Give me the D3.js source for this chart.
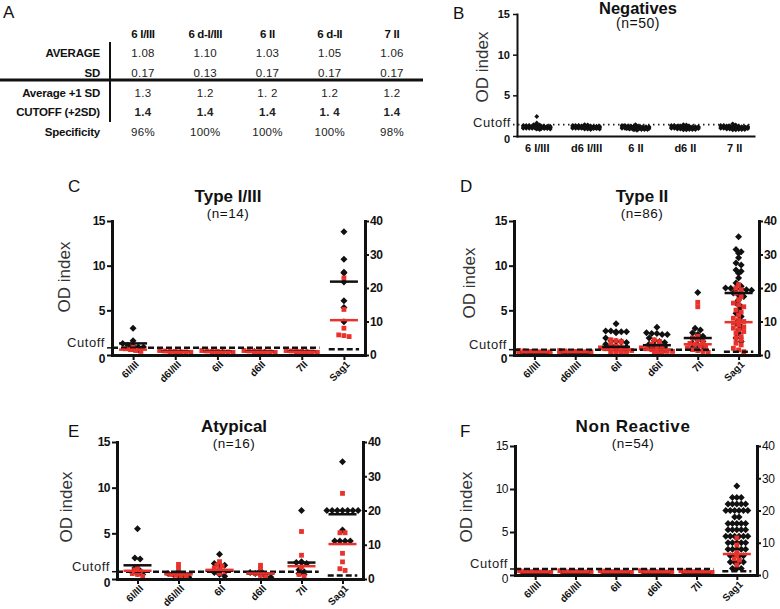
<!DOCTYPE html>
<html><head><meta charset="utf-8">
<script src="https://cdn.jsdelivr.net/npm/d3@7"></script>
<style>body{margin:0;background:#fff} svg{display:block}</style>
</head><body><svg id="c" width="780" height="609"></svg>
<script>
// ---------- DATA ----------
const tableCols = ["6 I/III","6 d-I/III","6 II","6 d-II","7 II"];
const tableRows = ["AVERAGE","SD","Average +1 SD","CUTOFF (+2SD)","Specificity"];
const tableAverage = ["1.08","1.10","1.03","1.05","1.06"];
const tableSD = ["0.17","0.13","0.17","0.17","0.17"];
const tablePlus1SD = ["1.3","1.2","1. 2","1.2","1.2"];
const tableCutoff = ["1.4","1.4","1.4","1. 4","1.4"];
const tableSpecificity = ["96%","100%","100%","100%","98%"];

const negCategories = ["6 I/III","d6 I/III","6 II","d6 II","7 II"];
const negCutoff = 1.4;
const neg6I = [2.4,1.6,1.4,1.4,1.35,1.3,1.3,1.3,1.25,1.25,1.25,1.2,1.2,1.2,1.2,1.15,1.15,1.15,1.15,1.1,1.1,1.1,1.1,1.1,1.1,1.05,1.05,1.05,1.05,1.05,1.05,1.0,1.0,1.0,1.0,1.0,1.0,1.0,0.95,0.95,0.95,0.95,0.95,0.9,0.9,0.9,0.9,0.85,0.85,0.8];
const negd6I = [1.4,1.35,1.3,1.3,1.3,1.25,1.25,1.25,1.25,1.2,1.2,1.2,1.2,1.2,1.15,1.15,1.15,1.15,1.15,1.1,1.1,1.1,1.1,1.1,1.1,1.05,1.05,1.05,1.05,1.05,1.05,1.0,1.0,1.0,1.0,1.0,1.0,0.95,0.95,0.95,0.95,0.95,0.9,0.9,0.9,0.9,0.85,0.85,0.85,0.8];
const neg6II = [1.4,1.3,1.3,1.25,1.25,1.2,1.2,1.2,1.15,1.15,1.15,1.15,1.1,1.1,1.1,1.1,1.1,1.05,1.05,1.05,1.05,1.05,1.05,1.0,1.0,1.0,1.0,1.0,1.0,1.0,0.95,0.95,0.95,0.95,0.95,0.95,0.9,0.9,0.9,0.9,0.9,0.85,0.85,0.85,0.85,0.8,0.8,0.8,0.75,0.7];
const negd6II = [1.4,1.35,1.3,1.3,1.25,1.25,1.2,1.2,1.2,1.15,1.15,1.15,1.15,1.1,1.1,1.1,1.1,1.1,1.05,1.05,1.05,1.05,1.05,1.05,1.0,1.0,1.0,1.0,1.0,1.0,1.0,0.95,0.95,0.95,0.95,0.95,0.9,0.9,0.9,0.9,0.9,0.85,0.85,0.85,0.85,0.8,0.8,0.8,0.75,0.75];
const neg7II = [1.5,1.35,1.3,1.3,1.25,1.25,1.2,1.2,1.2,1.15,1.15,1.15,1.15,1.1,1.1,1.1,1.1,1.1,1.05,1.05,1.05,1.05,1.05,1.05,1.0,1.0,1.0,1.0,1.0,1.0,1.0,0.95,0.95,0.95,0.95,0.95,0.9,0.9,0.9,0.9,0.9,0.85,0.85,0.85,0.85,0.8,0.8,0.8,0.75,0.75];

const panelCategories = ["6I/III","d6I/III","6II","d6II","7II","Sag1"];
const leftTicks = [0,5,10,15];
const rightTicks = [0,10,20,30,40];
const panelCutoff = [0.8, 0.6, 0.8, 0.7];     // OD index cutoff line (left axis)
const sagCutoff = [1.7, 1.0, 1.0, 1.2];       // Sag1 cutoff line (right axis)

// Panel C: Type I/III (n=14)
const C_black = [
  [3.0,1.6,1.3,1.1,1.0,0.9,0.9,0.8,0.7,0.6],
  [0.4,0.3,0.3],[0.4,0.3,0.3],[0.4,0.3,0.3],[0.4,0.3,0.3],
  [36.8,28.6,24.7,24.5,21.8,16.2,14.2,9.9]
];
const C_red = [
  [0.9,0.7,0.6,0.5,0.4],
  [0.5,0.45,0.4,0.4,0.35,0.35,0.3,0.3,0.3,0.25,0.25,0.2],
  [0.5,0.45,0.4,0.4,0.35,0.35,0.3,0.3,0.3,0.25,0.25,0.2],
  [0.5,0.45,0.4,0.4,0.35,0.35,0.3,0.3,0.3,0.25,0.25,0.2],
  [0.5,0.45,0.4,0.4,0.35,0.35,0.3,0.3,0.3,0.25,0.25,0.2],
  [23.0,13.6,8.0,6.0,5.8,5.5]
];
const C_blackMean = [1.3,0.4,0.4,0.4,0.4,21.9];
const C_redMean = [0.6,0.35,0.35,0.35,0.35,10.4];

// Panel D: Type II (n=86)
const D_black = [
  [0.3,0.3,0.25],[0.3,0.3,0.25],
  [3.5,2.7,2.7,2.6,2.6,2.6,2.5,1.9,1.6,1.5,1.5,1.4,1.2,1.1,1.0,0.9,0.9,0.8,0.8,0.7,0.7,0.6],
  [3.1,2.5,2.4,2.4,2.3,2.3,1.9,1.6,1.5,1.4,1.2,1.1,1.0,0.9,0.8,0.8,0.7,0.6],
  [7.0,3.0,2.8,2.5,2.3,2.1,1.9,1.7,1.5,1.3,1.1,1.0,0.8,0.6,0.5],
  [35.3,31.5,30.8,30.4,29.0,27.5,26.9,25.4,25.0,24.4,23.0,21.5,20.5,20.0,19.9,19.8,19.6,19.5,19.3,18.5,17.9,17.5,16.4,15.5,14.4,13.5,12.5,11.5,10.4,9.5,8.4,7.5,6.6,5.1,4.0]
];
const D_red = [
  [0.5,0.45,0.4,0.4,0.35,0.35,0.35,0.3,0.3,0.3,0.3,0.25,0.25,0.25,0.2,0.2,0.15,0.1],
  [0.5,0.45,0.4,0.4,0.35,0.35,0.35,0.3,0.3,0.3,0.3,0.25,0.25,0.25,0.2,0.2,0.15,0.1],
  [1.7,1.6,1.5,1.3,1.0,0.9,0.8,0.7,0.7,0.6,0.6,0.5,0.5,0.4,0.4,0.3,0.3,0.2,0.2,0.1],
  [1.7,1.5,1.2,1.0,0.9,0.8,0.7,0.6,0.6,0.5,0.4,0.4,0.3,0.3,0.2,0.1],
  [5.9,5.4,2.1,1.9,1.7,1.5,1.3,1.2,1.0,0.9,0.8,0.6,0.5,0.4,0.3],
  [21.0,20.0,19.5,18.5,17.4,16.5,15.5,15.0,14.4,13.4,12.8,11.9,11.0,10.4,10.0,9.5,9.0,8.4,8.0,7.5,7.0,6.5,5.5,5.0,4.5,3.5,3.0,2.0,1.5,1.0]
];
const D_blackMean = [0.3,0.3,0.9,1.1,1.9,18.5];
const D_redMean = [0.35,0.35,0.6,0.6,1.2,9.8];

// Panel E: Atypical (n=16)
const E_black = [
  [5.5,2.3,2.2,1.2,0.9,0.7,0.6,0.5],
  [0.8,0.6,0.5,0.4,0.3,0.2],
  [2.7,1.7,1.6,1.5,1.0,0.7,0.5,0.3],
  [0.9,0.7,0.6,0.5,0.3,0.2],
  [7.5,1.9,1.8,1.8,1.7,1.0,0.8,0.6,0.5],
  [34.2,20.0,20.0,20.0,20.0,20.0,20.0,20.0,14.3,11.1,11.1,11.1,11.1]
];
const E_red = [
  [1.3,1.0,0.8,0.6,0.5,0.3],
  [1.6,1.2,0.5,0.4,0.3,0.2],
  [1.9,1.5,1.4,1.2,1.0,0.8,0.6],
  [1.5,1.2,0.6,0.4,0.3],
  [5.2,2.6,1.3,0.5,0.3],
  [25.0,13.5,13.5,7.5,5.0,3.0,2.5]
];
const E_blackMean = [1.5,0.6,0.9,0.6,1.8,18.9];
const E_redMean = [0.9,0.5,1.0,0.6,1.4,10.2];

// Panel F: Non Reactive (n=54)
const F_black = [
  [0.3,0.25,0.2],[0.3,0.25,0.2],[0.3,0.25,0.2],[0.3,0.25,0.2],[0.3,0.25,0.2],
  [27.6,24,24,24,22,22,22,22,22,20,20,20,20,20,20,18,18,16,16,16,16,16,14,14,14,14,14,12,12,12,12,12,12,10,10,10,10,10,8,8,8,8,8,6,6,6,6,4,4,4,4,2,2,2]
];
const F_red = [
  [0.5,0.45,0.4,0.4,0.35,0.35,0.3,0.3,0.3,0.3,0.25,0.25,0.2,0.2,0.15,0.1],
  [0.5,0.45,0.4,0.4,0.35,0.35,0.3,0.3,0.3,0.3,0.25,0.25,0.2,0.2,0.15,0.1],
  [0.5,0.45,0.4,0.4,0.35,0.35,0.3,0.3,0.3,0.3,0.25,0.25,0.2,0.2,0.15,0.1],
  [0.5,0.45,0.4,0.4,0.35,0.35,0.3,0.3,0.3,0.3,0.25,0.25,0.2,0.2,0.15,0.1],
  [0.5,0.45,0.4,0.4,0.35,0.35,0.3,0.3,0.3,0.3,0.25,0.25,0.2,0.2,0.15,0.1],
  [11.5,9.3,7.0,6.0,5.0,4.6,3.1]
];
const F_blackMean = [0.3,0.3,0.3,0.3,0.3,null];
const F_redMean = [0.35,0.35,0.35,0.35,0.35,6.5];

// ---------- DRAWING ----------
const FONT = "'Liberation Sans', Arial, Helvetica, sans-serif";
const BLACK = "#111", RED = "#e8322b";
const svg = d3.select("#c").attr("font-family", FONT);

function txt(g, x, y, s, size, weight, anchor, fill){
  return g.append("text").attr("x",x).attr("y",y).attr("font-size",size)
    .attr("font-weight",weight||"normal").attr("text-anchor",anchor||"start")
    .attr("fill",fill||"#111").text(s);
}

// ---- Panel A: table ----
const gA = svg.append("g");
txt(gA, 3, 18, "A", 17);
const colX = d3.scalePoint().domain(tableCols).range([143, 392]);
const rowY = d3.scalePoint().domain(tableRows).range([57, 136]);
tableCols.forEach(c => txt(gA, colX(c), 38, c, 11.5, "bold", "middle").attr("letter-spacing", -0.3));
tableRows.forEach(r => txt(gA, 100, rowY(r), r, 11.5, "bold", "end").attr("letter-spacing", -0.2));
const tableVals = [tableAverage, tableSD, tablePlus1SD, tableCutoff, tableSpecificity];
tableVals.forEach((vals, ri) => {
  vals.forEach((v, ci) => {
    txt(gA, colX(tableCols[ci]), rowY(tableRows[ri]), v, 11.5, ri === 3 ? "bold" : "normal", "middle", "#222")
      .attr("letter-spacing", 0.3);
  });
});
gA.append("line").attr("x1",110).attr("x2",110).attr("y1",42).attr("y2",122).attr("stroke","#111").attr("stroke-width",2);
gA.append("line").attr("x1",0).attr("x2",423).attr("y1",80).attr("y2",80).attr("stroke","#111").attr("stroke-width",3);

// ---- swarm layout ----
function swarm(vals, yS, cx, dx, rh, maxPer){
  const pts = vals.map(v => ({v, y: yS(v)})).sort((a,b) => b.v - a.v);
  const bins = d3.groups(pts, p => Math.round(p.y / rh));
  const out = [];
  bins.forEach(([k, arr]) => {
    const n = arr.length;
    arr.forEach((p, i) => {
      const layer = Math.floor(i / maxPer), j = i % maxPer;
      const inLayer = Math.min(maxPer, n - layer * maxPer);
      const off = (j - (inLayer - 1) / 2) * dx + (layer % 2 ? dx / 2 : 0);
      out.push({v: p.v, x: cx + off, y: p.y});
    });
  });
  return out;
}
const diamond = r => `M0,${-r}L${r},0L0,${r}L${-r},0Z`;

function styleAxis(a, size, weight){
  a.select(".domain").attr("stroke", BLACK).attr("stroke-linecap","square");
  a.selectAll(".tick line").attr("stroke", BLACK);
  a.selectAll(".tick text").attr("font-family", FONT).attr("font-size", size)
    .attr("font-weight", weight).attr("fill", BLACK);
}

// ---- Panel B: Negatives ----
(function(){
  const g = svg.append("g");
  const L = 517, R = 754, T = 14, Bm = 136;
  const x = d3.scalePoint().domain(negCategories).range([L, R]).padding(0.4);
  const y = d3.scaleLinear().domain([0, 15]).range([Bm, T]);
  txt(g, 453, 19, "B", 17);
  txt(g, 638, 13.5, "Negatives", 16.5, "bold", "middle");
  txt(g, 638, 28, "(n=50)", 14, "normal", "middle").attr("letter-spacing", 0.5);
  g.append("text").attr("transform", "translate(488,67) rotate(-90)").attr("text-anchor","middle")
    .attr("font-size", 17).attr("fill", "#333").text("OD index");
  const ay = g.append("g").attr("transform", `translate(${L},0)`)
    .call(d3.axisLeft(y).tickValues(leftTicks).tickSize(4).tickSizeOuter(0).tickPadding(3));
  styleAxis(ay, 11, "bold");
  ay.select(".domain").attr("stroke-width", 2);
  ay.selectAll(".tick line").attr("stroke-width", 1.5);
  ay.selectAll(".tick text").filter(d => d === 0).attr("dy", "0.6em");
  const ax = g.append("g").attr("transform", `translate(0,${Bm})`)
    .call(d3.axisBottom(x).tickSize(0).tickSizeOuter(0).tickPadding(8));
  styleAxis(ax, 11, "bold");
  ax.select(".domain").attr("stroke-width", 2);
  txt(g, 511, y(negCutoff) + 2.5, "Cutoff", 13, "normal", "end", "#222").attr("letter-spacing", 0.6);
  g.append("line").attr("x1", 513).attr("x2", 753).attr("y1", y(negCutoff)).attr("y2", y(negCutoff))
    .attr("stroke", "#222").attr("stroke-width", 1.6).attr("stroke-dasharray", "1.5,3.5");
  const groups = [neg6I, negd6I, neg6II, negd6II, neg7II];
  groups.forEach((vals, i) => {
    const pts = swarm(vals, y, x(negCategories[i]), 3, 1.5, 10);
    g.append("g").selectAll("path").data(pts).join("path")
      .attr("d", diamond(2.4)).attr("transform", d => `translate(${d.x},${d.y})`).attr("fill", BLACK);
  });
})();

// ---- Panels C–F ----
const panels = [
  {letter:"C", title:"Type I/III", n:"(n=14)", left:112, right:365, top:221, bottom:355,
   black:C_black, red:C_red, bm:C_blackMean, rm:C_redMean, cut:panelCutoff[0], sag:sagCutoff[0], bold:true,
   lx:68, ly:192, tx:228, ty:202, ox:70, oy:277, dx:5.2},
  {letter:"D", title:"Type II", n:"(n=86)", left:514, right:759, top:221, bottom:355,
   black:D_black, red:D_red, bm:D_blackMean, rm:D_redMean, cut:panelCutoff[1], sag:sagCutoff[1], bold:true,
   lx:460, ly:192, tx:642, ty:202, ox:475, oy:283, dx:5.2},
  {letter:"E", title:"Atypical", n:"(n=16)", left:117, right:363, top:442, bottom:579,
   black:E_black, red:E_red, bm:E_blackMean, rm:E_redMean, cut:panelCutoff[2], sag:sagCutoff[2], bold:true,
   lx:68, ly:437, tx:234, ty:432, ox:72, oy:507, dx:5.2},
  {letter:"F", title:"Non Reactive", n:"(n=54)", left:515, right:757, top:446, bottom:575,
   black:F_black, red:F_red, bm:F_blackMean, rm:F_redMean, cut:panelCutoff[3], sag:sagCutoff[3], bold:false,
   lx:460, ly:437, tx:633, ty:432, ox:472, oy:507, dx:4.4}
];

panels.forEach(p => {
  const g = svg.append("g");
  const x = d3.scalePoint().domain(panelCategories).range([p.left, p.right]).padding(0.5);
  const y = d3.scaleLinear().domain([0, 15]).range([p.bottom, p.top]);
  const yR = d3.scaleLinear().domain([0, 40]).range([p.bottom, p.top]);
  const step = x.step();
  const fw = p.bold ? "bold" : "normal";

  txt(g, p.lx, p.ly, p.letter, 17);
  txt(g, p.tx, p.ty, p.title, 17, "bold", "middle").attr("letter-spacing", p.letter === "F" ? 0.6 : 0);
  txt(g, p.tx, p.ty + 16, p.n, 13.5, "normal", "middle").attr("letter-spacing", 0.5);
  g.append("text").attr("transform", `translate(${p.ox},${p.oy}) rotate(-90)`).attr("text-anchor","middle")
    .attr("font-size", 17).attr("fill", "#333").text("OD index");

  // points
  p.black.forEach((vals, i) => {
    const s = i === 5 ? yR : y;
    const pts = swarm(vals, s, x(panelCategories[i]), p.dx, 5, 7);
    g.append("g").selectAll("path").data(pts).join("path")
      .attr("d", diamond(3.5)).attr("transform", d => `translate(${d.x},${d.y})`).attr("fill", BLACK);
  });
  p.red.forEach((vals, i) => {
    const s = i === 5 ? yR : y;
    const pts = swarm(vals, s, x(panelCategories[i]), 5.2, 5, 7);
    g.append("g").selectAll("rect").data(pts).join("rect")
      .attr("x", d => d.x - 2.4).attr("y", d => d.y - 2.4).attr("width", 4.8).attr("height", 4.8)
      .attr("fill", RED);
  });
  // cutoff lines
  g.append("line").attr("x1", p.left).attr("x2", x("7II") + step * 0.42)
    .attr("y1", y(p.cut)).attr("y2", y(p.cut))
    .attr("stroke", BLACK).attr("stroke-width", 2.5).attr("stroke-dasharray", "6,3");
  g.append("line").attr("x1", x("Sag1") - step * 0.36).attr("x2", x("Sag1") + step * 0.36)
    .attr("y1", yR(p.sag)).attr("y2", yR(p.sag))
    .attr("stroke", BLACK).attr("stroke-width", 2.5).attr("stroke-dasharray", "6,3");
  // mean lines
  p.bm.forEach((m, i) => {
    if (m == null) return;
    const s = i === 5 ? yR : y, cx = x(panelCategories[i]);
    g.append("line").attr("x1", cx - 14).attr("x2", cx + 14).attr("y1", s(m)).attr("y2", s(m))
      .attr("stroke", BLACK).attr("stroke-width", 2.5);
  });
  p.rm.forEach((m, i) => {
    if (m == null) return;
    const s = i === 5 ? yR : y, cx = x(panelCategories[i]);
    g.append("line").attr("x1", cx - 14).attr("x2", cx + 14).attr("y1", s(m)).attr("y2", s(m))
      .attr("stroke", RED).attr("stroke-width", 2.5);
  });

  // axes
  const ay = g.append("g").attr("transform", `translate(${p.left},0)`)
    .call(d3.axisLeft(y).tickValues(leftTicks).tickSize(5).tickSizeOuter(0).tickPadding(2));
  styleAxis(ay, 12, fw);
  const ar = g.append("g").attr("transform", `translate(${p.right},0)`)
    .call(d3.axisRight(yR).tickValues(rightTicks).tickSize(4).tickSizeOuter(0).tickPadding(1));
  styleAxis(ar, 12, fw);
  const ab = g.append("g").attr("transform", `translate(0,${p.bottom})`)
    .call(d3.axisBottom(x).tickSize(5).tickSizeOuter(0));
  styleAxis(ab, 10, "bold");
  [ay, ar, ab].forEach(a => {
    a.select(".domain").attr("stroke-width", 3);
    a.selectAll(".tick line").attr("stroke-width", 2);
    a.selectAll(".tick text").attr("letter-spacing", -0.5);
  });
  ay.selectAll(".tick text").filter(d => d === 0).attr("dy", "0.62em");
  ab.selectAll(".tick text").attr("y", 0).attr("dy", 0).attr("text-anchor", "end")
    .attr("transform", "translate(6,10) rotate(-45)").attr("letter-spacing", 0);

  // Cutoff label and tick
  g.append("line").attr("x1", p.left - 5).attr("x2", p.left).attr("y1", y(p.cut)).attr("y2", y(p.cut))
    .attr("stroke", BLACK).attr("stroke-width", 1.5);
  txt(g, p.left - 7, y(p.cut) - 0.5, "Cutoff", 13, "normal", "end", "#222").attr("letter-spacing", 0.6);
});
</script></body></html>
